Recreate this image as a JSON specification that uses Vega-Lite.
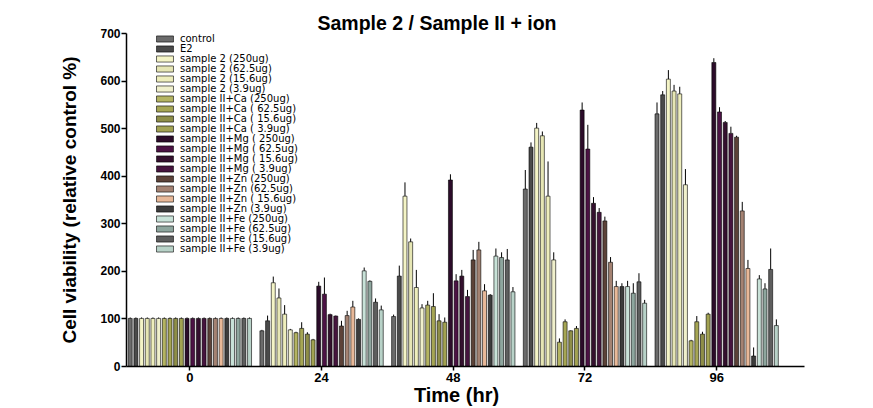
{
  "$schema": "https://vega.github.io/schema/vega-lite/v6.json",
  "width": 678,
  "height": 333,
  "autosize": "none",
  "padding": {"left": 126, "top": 33, "right": 69, "bottom": 42},
  "background": "white",
  "config": {"view": {"stroke": null}, "font": "Liberation Sans"},
  "title": {"text": "Sample 2 / Sample II + ion", "fontSize": 19.5, "fontWeight": "bold", "font": "Liberation Sans", "anchor": "middle", "frame": "group", "dx": -28, "dy": 24, "offset": 2, "baseline": "alphabetic", "color": "black"},
  "data": {"values": [
    {"time":"0","group":"control","value":100,"upper":102},
    {"time":"0","group":"E2","value":100,"upper":102},
    {"time":"0","group":"sample 2 (250ug)","value":100,"upper":102},
    {"time":"0","group":"sample 2 (62.5ug)","value":100,"upper":102},
    {"time":"0","group":"sample 2 (15.6ug)","value":100,"upper":102},
    {"time":"0","group":"sample 2 (3.9ug)","value":100,"upper":102},
    {"time":"0","group":"sample II+Ca (250ug)","value":100,"upper":102},
    {"time":"0","group":"sample II+Ca ( 62.5ug)","value":100,"upper":102},
    {"time":"0","group":"sample II+Ca ( 15.6ug)","value":100,"upper":102},
    {"time":"0","group":"sample II+Ca ( 3.9ug)","value":100,"upper":102},
    {"time":"0","group":"sample II+Mg ( 250ug)","value":100,"upper":102},
    {"time":"0","group":"sample II+Mg ( 62.5ug)","value":100,"upper":102},
    {"time":"0","group":"sample II+Mg ( 15.6ug)","value":100,"upper":102},
    {"time":"0","group":"sample II+Mg ( 3.9ug)","value":100,"upper":102},
    {"time":"0","group":"sample II+Zn (250ug)","value":100,"upper":102},
    {"time":"0","group":"sample II+Zn (62.5ug)","value":100,"upper":102},
    {"time":"0","group":"sample II+Zn ( 15.6ug)","value":100,"upper":102},
    {"time":"0","group":"sample II+Zn (3.9ug)","value":100,"upper":102},
    {"time":"0","group":"sample II+Fe (250ug)","value":100,"upper":102},
    {"time":"0","group":"sample II+Fe (62.5ug)","value":100,"upper":102},
    {"time":"0","group":"sample II+Fe (15.6ug)","value":100,"upper":102},
    {"time":"0","group":"sample II+Fe (3.9ug)","value":100,"upper":102},

    {"time":"24","group":"control","value":74,"upper":76},
    {"time":"24","group":"E2","value":95,"upper":106},
    {"time":"24","group":"sample 2 (250ug)","value":175,"upper":188},
    {"time":"24","group":"sample 2 (62.5ug)","value":143,"upper":163},
    {"time":"24","group":"sample 2 (15.6ug)","value":109,"upper":128},
    {"time":"24","group":"sample 2 (3.9ug)","value":76,"upper":78},
    {"time":"24","group":"sample II+Ca (250ug)","value":70,"upper":72},
    {"time":"24","group":"sample II+Ca ( 62.5ug)","value":79,"upper":92},
    {"time":"24","group":"sample II+Ca ( 15.6ug)","value":67,"upper":71},
    {"time":"24","group":"sample II+Ca ( 3.9ug)","value":55,"upper":57},
    {"time":"24","group":"sample II+Mg ( 250ug)","value":168,"upper":177},
    {"time":"24","group":"sample II+Mg ( 62.5ug)","value":151,"upper":186},
    {"time":"24","group":"sample II+Mg ( 15.6ug)","value":108,"upper":110},
    {"time":"24","group":"sample II+Mg ( 3.9ug)","value":105,"upper":106},
    {"time":"24","group":"sample II+Zn (250ug)","value":84,"upper":95},
    {"time":"24","group":"sample II+Zn (62.5ug)","value":106,"upper":116},
    {"time":"24","group":"sample II+Zn ( 15.6ug)","value":124,"upper":137},
    {"time":"24","group":"sample II+Zn (3.9ug)","value":98,"upper":100},
    {"time":"24","group":"sample II+Fe (250ug)","value":200,"upper":207},
    {"time":"24","group":"sample II+Fe (62.5ug)","value":178,"upper":180},
    {"time":"24","group":"sample II+Fe (15.6ug)","value":134,"upper":142},
    {"time":"24","group":"sample II+Fe (3.9ug)","value":118,"upper":127},

    {"time":"48","group":"control","value":104,"upper":108},
    {"time":"48","group":"E2","value":189,"upper":211},
    {"time":"48","group":"sample 2 (250ug)","value":357,"upper":386},
    {"time":"48","group":"sample 2 (62.5ug)","value":261,"upper":268},
    {"time":"48","group":"sample 2 (15.6ug)","value":165,"upper":202},
    {"time":"48","group":"sample 2 (3.9ug)","value":122,"upper":130},
    {"time":"48","group":"sample II+Ca (250ug)","value":128,"upper":137},
    {"time":"48","group":"sample II+Ca ( 62.5ug)","value":125,"upper":153},
    {"time":"48","group":"sample II+Ca ( 15.6ug)","value":95,"upper":109},
    {"time":"48","group":"sample II+Ca ( 3.9ug)","value":92,"upper":102},
    {"time":"48","group":"sample II+Mg ( 250ug)","value":391,"upper":403},
    {"time":"48","group":"sample II+Mg ( 62.5ug)","value":179,"upper":193},
    {"time":"48","group":"sample II+Mg ( 15.6ug)","value":189,"upper":202},
    {"time":"48","group":"sample II+Mg ( 3.9ug)","value":146,"upper":160},
    {"time":"48","group":"sample II+Zn (250ug)","value":223,"upper":244},
    {"time":"48","group":"sample II+Zn (62.5ug)","value":244,"upper":261},
    {"time":"48","group":"sample II+Zn ( 15.6ug)","value":158,"upper":172},
    {"time":"48","group":"sample II+Zn (3.9ug)","value":149,"upper":151},
    {"time":"48","group":"sample II+Fe (250ug)","value":231,"upper":247},
    {"time":"48","group":"sample II+Fe (62.5ug)","value":228,"upper":239},
    {"time":"48","group":"sample II+Fe (15.6ug)","value":223,"upper":246},
    {"time":"48","group":"sample II+Fe (3.9ug)","value":156,"upper":166},

    {"time":"72","group":"control","value":372,"upper":412},
    {"time":"72","group":"E2","value":460,"upper":470},
    {"time":"72","group":"sample 2 (250ug)","value":500,"upper":511},
    {"time":"72","group":"sample 2 (62.5ug)","value":484,"upper":493},
    {"time":"72","group":"sample 2 (15.6ug)","value":357,"upper":430},
    {"time":"72","group":"sample 2 (3.9ug)","value":223,"upper":239},
    {"time":"72","group":"sample II+Ca (250ug)","value":50,"upper":58},
    {"time":"72","group":"sample II+Ca ( 62.5ug)","value":93,"upper":98},
    {"time":"72","group":"sample II+Ca ( 15.6ug)","value":74,"upper":75},
    {"time":"72","group":"sample II+Ca ( 3.9ug)","value":79,"upper":84},
    {"time":"72","group":"sample II+Mg ( 250ug)","value":538,"upper":554},
    {"time":"72","group":"sample II+Mg ( 62.5ug)","value":456,"upper":507},
    {"time":"72","group":"sample II+Mg ( 15.6ug)","value":342,"upper":355},
    {"time":"72","group":"sample II+Mg ( 3.9ug)","value":323,"upper":332},
    {"time":"72","group":"sample II+Zn (250ug)","value":305,"upper":314},
    {"time":"72","group":"sample II+Zn (62.5ug)","value":218,"upper":229},
    {"time":"72","group":"sample II+Zn ( 15.6ug)","value":167,"upper":179},
    {"time":"72","group":"sample II+Zn (3.9ug)","value":167,"upper":174},
    {"time":"72","group":"sample II+Fe (250ug)","value":167,"upper":179},
    {"time":"72","group":"sample II+Fe (62.5ug)","value":153,"upper":174},
    {"time":"72","group":"sample II+Fe (15.6ug)","value":177,"upper":195},
    {"time":"72","group":"sample II+Fe (3.9ug)","value":132,"upper":139},

    {"time":"96","group":"control","value":530,"upper":554},
    {"time":"96","group":"E2","value":570,"upper":578},
    {"time":"96","group":"sample 2 (250ug)","value":603,"upper":622},
    {"time":"96","group":"sample 2 (62.5ug)","value":578,"upper":591},
    {"time":"96","group":"sample 2 (15.6ug)","value":572,"upper":587},
    {"time":"96","group":"sample 2 (3.9ug)","value":381,"upper":414},
    {"time":"96","group":"sample II+Ca (250ug)","value":53,"upper":55},
    {"time":"96","group":"sample II+Ca ( 62.5ug)","value":93,"upper":105},
    {"time":"96","group":"sample II+Ca ( 15.6ug)","value":67,"upper":72},
    {"time":"96","group":"sample II+Ca ( 3.9ug)","value":109,"upper":112},
    {"time":"96","group":"sample II+Mg ( 250ug)","value":638,"upper":647},
    {"time":"96","group":"sample II+Mg ( 62.5ug)","value":534,"upper":544},
    {"time":"96","group":"sample II+Mg ( 15.6ug)","value":512,"upper":515},
    {"time":"96","group":"sample II+Mg ( 3.9ug)","value":489,"upper":503},
    {"time":"96","group":"sample II+Zn (250ug)","value":481,"upper":484},
    {"time":"96","group":"sample II+Zn (62.5ug)","value":326,"upper":345},
    {"time":"96","group":"sample II+Zn ( 15.6ug)","value":205,"upper":223},
    {"time":"96","group":"sample II+Zn (3.9ug)","value":21,"upper":39},
    {"time":"96","group":"sample II+Fe (250ug)","value":183,"upper":191},
    {"time":"96","group":"sample II+Fe (62.5ug)","value":162,"upper":174},
    {"time":"96","group":"sample II+Fe (15.6ug)","value":203,"upper":247},
    {"time":"96","group":"sample II+Fe (3.9ug)","value":85,"upper":98}
  ]},
  "layer": [
    {
      "mark": {"type": "bar", "stroke": "black", "strokeWidth": 0.6},
      "encoding": {
        "x": {"field": "time", "type": "ordinal", "sort": ["0","24","48","72","96"],
              "scale": {"paddingInner": 0.03, "paddingOuter": 0.089, "align": 0},
              "axis": {"title": "Time (hr)", "titleFontSize": 20, "titleFontWeight": "bold", "titleColor": "black", "titlePadding": 1, "titleX": 330,
                       "labelAngle": 0, "labelFontSize": 13, "labelFontWeight": "bold", "labelColor": "black", "labelPadding": 1,
                       "tickColor": "black", "tickSize": 4, "tickWidth": 1.5, "domainColor": "black", "domainWidth": 1.5}},
        "xOffset": {"field": "group", "type": "nominal",
                    "sort": ["control","E2","sample 2 (250ug)","sample 2 (62.5ug)","sample 2 (15.6ug)","sample 2 (3.9ug)","sample II+Ca (250ug)","sample II+Ca ( 62.5ug)","sample II+Ca ( 15.6ug)","sample II+Ca ( 3.9ug)","sample II+Mg ( 250ug)","sample II+Mg ( 62.5ug)","sample II+Mg ( 15.6ug)","sample II+Mg ( 3.9ug)","sample II+Zn (250ug)","sample II+Zn (62.5ug)","sample II+Zn ( 15.6ug)","sample II+Zn (3.9ug)","sample II+Fe (250ug)","sample II+Fe (62.5ug)","sample II+Fe (15.6ug)","sample II+Fe (3.9ug)"],
                    "scale": {"paddingInner": 0.3, "paddingOuter": 0.39}},
        "y": {"field": "value", "type": "quantitative", "scale": {"domain": [0, 700], "nice": false},
              "axis": {"title": "Cell viability (relative control %)", "titleFontSize": 19, "titleFontWeight": "bold", "titleColor": "black", "titlePadding": 20,
                       "values": [0,100,200,300,400,500,600,700], "grid": false,
                       "labelFontSize": 12, "labelFontWeight": "bold", "labelColor": "black", "labelPadding": 1,
                       "tickColor": "black", "tickSize": 5, "tickWidth": 1.5, "domainColor": "black", "domainWidth": 1.5}},
        "color": {"field": "group", "type": "nominal",
                  "scale": {"domain": ["control","E2","sample 2 (250ug)","sample 2 (62.5ug)","sample 2 (15.6ug)","sample 2 (3.9ug)","sample II+Ca (250ug)","sample II+Ca ( 62.5ug)","sample II+Ca ( 15.6ug)","sample II+Ca ( 3.9ug)","sample II+Mg ( 250ug)","sample II+Mg ( 62.5ug)","sample II+Mg ( 15.6ug)","sample II+Mg ( 3.9ug)","sample II+Zn (250ug)","sample II+Zn (62.5ug)","sample II+Zn ( 15.6ug)","sample II+Zn (3.9ug)","sample II+Fe (250ug)","sample II+Fe (62.5ug)","sample II+Fe (15.6ug)","sample II+Fe (3.9ug)"],
                            "range": ["#6b6b6b","#4a4a4a","#f4f4c6","#e6e6b4","#eeeebc","#f0f0cc","#b4b462","#a6a654","#8e8e48","#a2a252","#2c0c2a","#4c1244","#34102e","#46143e","#5c4238","#a48272","#e8b898","#3c3c3c","#c8e2d8","#8ea69e","#5e5e5e","#b8d2c8"]},
                  "legend": {"orient": "none", "legendX": 34, "legendY": 1, "title": null, "padding": 0,
                             "symbolType": "M-2.5,-0.9H2.5V0.9H-2.5Z", "symbolSize": 46, "symbolStrokeColor": "black", "symbolStrokeWidth": 0.6, "symbolOpacity": 1,
                             "labelFont": "DejaVu Sans", "labelFontSize": 10, "labelOffset": 10, "labelColor": "black", "rowPadding": 0, "labelLimit": 200}}
      }
    },
    {
      "mark": {"type": "rule", "color": "black", "strokeWidth": 1},
      "encoding": {
        "x": {"field": "time", "type": "ordinal", "sort": ["0","24","48","72","96"]},
        "xOffset": {"field": "group", "type": "nominal",
                    "sort": ["control","E2","sample 2 (250ug)","sample 2 (62.5ug)","sample 2 (15.6ug)","sample 2 (3.9ug)","sample II+Ca (250ug)","sample II+Ca ( 62.5ug)","sample II+Ca ( 15.6ug)","sample II+Ca ( 3.9ug)","sample II+Mg ( 250ug)","sample II+Mg ( 62.5ug)","sample II+Mg ( 15.6ug)","sample II+Mg ( 3.9ug)","sample II+Zn (250ug)","sample II+Zn (62.5ug)","sample II+Zn ( 15.6ug)","sample II+Zn (3.9ug)","sample II+Fe (250ug)","sample II+Fe (62.5ug)","sample II+Fe (15.6ug)","sample II+Fe (3.9ug)"]},
        "y": {"field": "value", "type": "quantitative"},
        "y2": {"field": "upper"}
      }
    }
  ]
}
